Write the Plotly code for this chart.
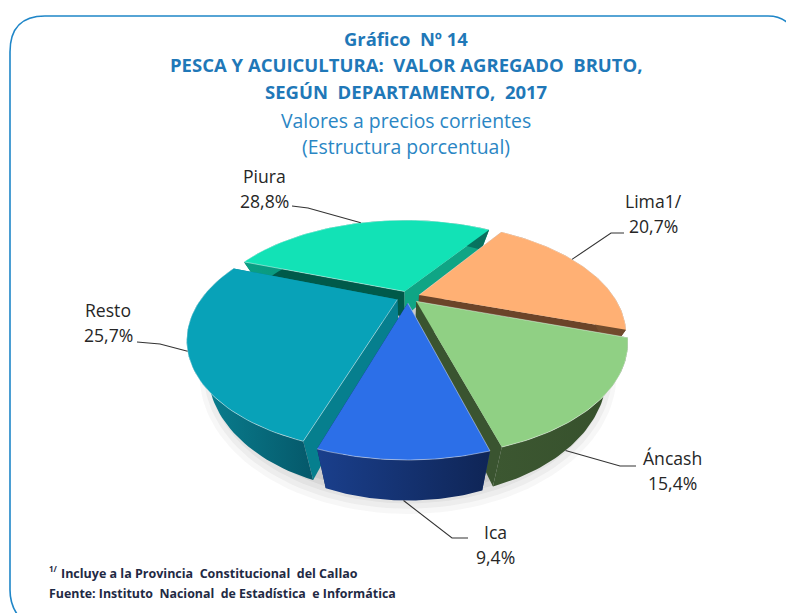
import math
import numpy as np
import plotly.graph_objects as go

# --- data (clockwise from the first slice) ---
categories = ["Lima1/", "Áncash", "Ica", "Resto", "Piura"]
shares = [20.7, 15.4, 9.4, 25.7, 28.8]

# --- style ---
top_colors = ["#ffb074", "#90d084", "#2c6fe8", "#08a2b8", "#12e2b6"]
wall_left = ["#8a5a34", "#3c5731", "#1a3f8c", "#0a8494", "#0aa085"]
wall_right = ["#6f4a2c", "#36502c", "#0f2556", "#05586a", "#07705d"]
side_start = ["#6b4429", "#3a5430", "#1a3f8c", "#067f8e", "#005a4a"]
side_end = ["#6b4429", "#3a5430", "#0f2556", "#067f8e", "#0fa585"]
draw_order = [4, 0, 3, 1, 2]
start_angle = 34.0
pull = 0.06
CX, CY, RX, RY, PERSP, DEPTH, TAPER = 408, 297, 195, 98.7, 0.338, 26, 0.095
TITLE = "#1f78b8"
SUB = "#2a86c4"
INK = "#262626"

# label anchors and leader elbows (layout, in page pixels)
label_xy = [(653, 214), (672, 471), (495, 545), (108, 323), (264, 189)]
elbow = [[(624, 233), (611, 233)], [(636, 466), (620, 466)], [(468, 538), (452, 538)],
         [(137, 342), (160, 344)], [(292, 206), (308, 208)]]
leader_hit = [0.42, 0.63, 0.5, 0.5, 0.5]

def project(theta_deg, r, bis_deg, z=0.0):
    t, b = np.radians(theta_deg), math.radians(bis_deg)
    u = r * np.sin(t) + pull * math.sin(b)
    v = -(r * np.cos(t) + pull * math.cos(b))
    p = 1 / (1 - PERSP * v)
    return CX + RX * u * p * (1 - TAPER * z), CY + RY * v * p + z * DEPTH * p

fig = go.Figure()

def poly(x, y, fill, line=None, lw=0, gradient=None):
    kw = dict(fillgradient=gradient) if gradient else dict(fillcolor=fill)
    fig.add_trace(go.Scatter(x=list(x), y=list(y), mode="lines", fill="toself",
                             line=dict(color=line or "rgba(0,0,0,0)", width=lw),
                             hoverinfo="skip", showlegend=False, **kw))

# soft shadow under the pie
ring = np.linspace(0, 360, 181)
for scale, alpha in [(1.14, 0.04), (1.12, 0.05), (1.10, 0.06), (1.08, 0.07), (1.06, 0.08)]:
    sx, sy = project(ring, scale, 0.0, 1.2)
    poly(sx, sy, f"rgba(60,60,60,{alpha})")

# slice angles follow the shares
edges = [start_angle]
for s in shares:
    edges.append(edges[-1] + s * 3.6)

for i in draw_order:
    a0, a1 = edges[i], edges[i + 1]
    bis = (a0 + a1) / 2
    th = np.linspace(a0, a1, 60)
    ax, ay = project(np.array([a0]), 0.0, bis)
    ax0, ay0 = project(np.array([a0]), 0.0, bis, 1)
    tx, ty = project(th, 1.0, bis)
    bx, by = project(th, 1.0, bis, 1)
    # radial side walls
    poly([ax[0], tx[0], bx[0], ax0[0]], [ay[0], ty[0], by[0], ay0[0]], side_start[i])
    poly([ax[0], tx[-1], bx[-1], ax0[0]], [ay[0], ty[-1], by[-1], ay0[0]], side_end[i])
    # outer wall
    poly(np.r_[tx, bx[::-1]], np.r_[ty, by[::-1]], None,
         gradient=dict(type="horizontal", colorscale=[[0, wall_left[i]], [1, wall_right[i]]]))
    # top
    poly(np.r_[ax, tx], np.r_[ay, ty], top_colors[i], "rgba(255,255,255,0.55)", 0.8)

# leader lines
for i in range(len(categories)):
    bis = (edges[i] + edges[i + 1]) / 2
    a = edges[i] + (edges[i + 1] - edges[i]) * leader_hit[i]
    hx, hy = project(np.array([a]), 1.0, bis, 0.0 if i in (0, 3, 4) else 1.0)
    pts = elbow[i] + [(float(hx[0]), float(hy[0]))]
    fig.add_trace(go.Scatter(x=[p[0] for p in pts], y=[p[1] for p in pts], mode="lines",
                             line=dict(color="#333333", width=1.1), hoverinfo="skip", showlegend=False))

F = "Open Sans"
ann = []
def text(x, y, s, size, color, anchor="center"):
    ann.append(dict(x=x, y=y, xref="x", yref="y", text=s, showarrow=False, xanchor=anchor, yanchor="middle",
                    font=dict(family=F, size=size, color=color)))

text(406, 38, "<b>Gráfico  Nº 14</b>", 18.4, TITLE)
text(406, 64, "<b>PESCA Y ACUICULTURA:  VALOR AGREGADO  BRUTO,</b>", 18.5, TITLE)
text(406, 91, "<b>SEGÚN  DEPARTAMENTO,  2017</b>", 18.5, TITLE)
text(406, 120, "Valores a precios corrientes", 19.4, SUB)
text(406, 146, "(Estructura porcentual)", 19.4, SUB)
for c, v, (x, y) in zip(categories, shares, label_xy):
    text(x, y - 13, c, 17.6, INK)
    text(x, y + 12, f"{v:.1f}".replace(".", ",") + "%", 17.6, INK)
text(47, 568, "<b>1/</b>", 8, "#1f2a44", "left")
text(59, 573, "<b>Incluye a la Provincia  Constitucional  del Callao</b>", 12.5, "#1f2a44", "left")
text(47, 593, "<b>Fuente: Instituto  Nacional  de Estadística  e Informática</b>", 12.4, "#1f2a44", "left")

frame = "M 792 28 Q 784 16 768 16 L 45 16 Q 10 16 10 52 L 10 590 Q 10 608 22 620"

fig.update_layout(
    width=786, height=613, margin=dict(l=0, r=0, t=0, b=0), autosize=False,
    paper_bgcolor="white", plot_bgcolor="white", showlegend=False,
    xaxis=dict(range=[0, 786], visible=False, fixedrange=True),
    yaxis=dict(range=[613, 0], visible=False, fixedrange=True),
    annotations=ann,
    shapes=[dict(type="path", path=frame, line=dict(color="#1f86c8", width=1.6), layer="below", xref="x", yref="y")],
)
fig.write_html("out.html", config=dict(displayModeBar=False),
               post_script="document.body.style.margin='0';")
